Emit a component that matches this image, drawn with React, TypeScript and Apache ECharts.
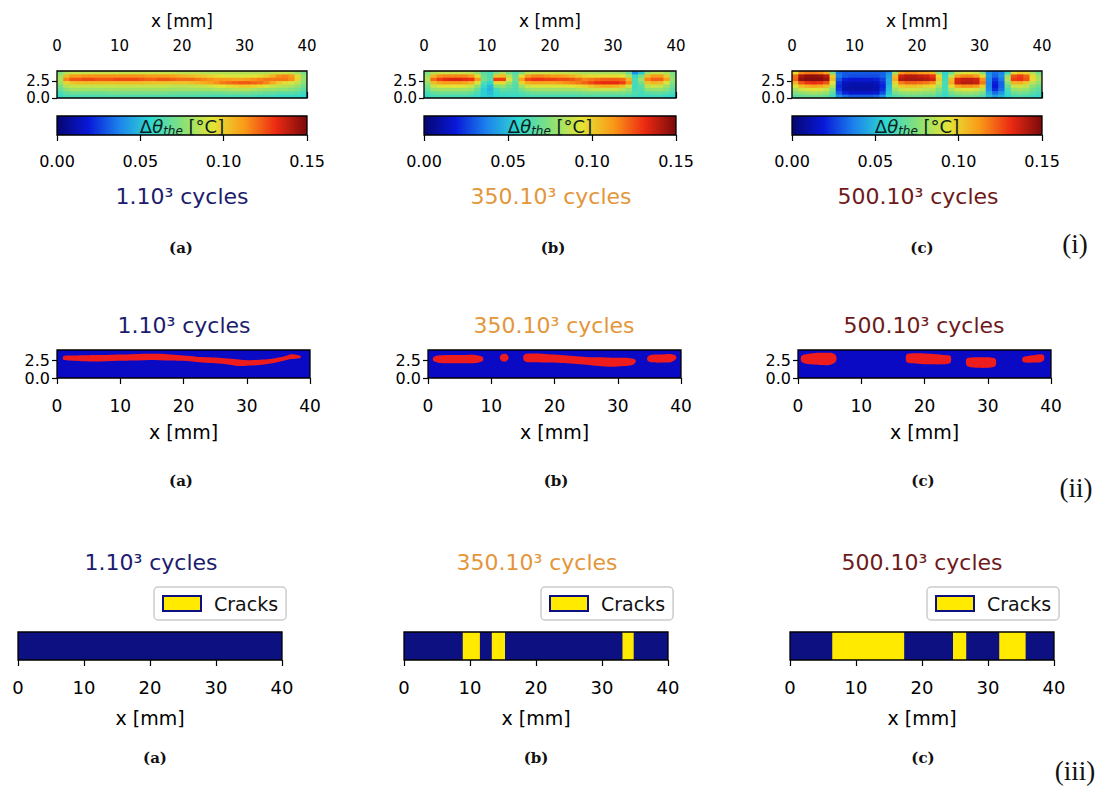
import React, { useEffect, useRef } from 'react';
import * as echarts from 'echarts';

// ================= DATA =================
const xRange = [0, 40];          // mm
const yRange = [0, 4];           // mm
const xTickStep = 10;
const yTickValues = [0, 2.5];
const cbRange = [0, 0.15];       // °C
const cbTickStep = 0.05;

const cycleTitles = ['1.10³ cycles', '350.10³ cycles', '500.10³ cycles'];
const panelLetters = ['(a)', '(b)', '(c)'];
const rowNames = ['(i)', '(ii)', '(iii)'];
const legendName = 'Cracks';

// Δθ_the maps, rows from top (y=3.75) to bottom (y=0.25), 40 columns of 1 mm, values in 1e-3 °C
const heat1k = [
  [74,84,88,88,88,88,88,88,88,88, 88,88,88,88,88,88,88,88,88,86, 86,86,86,84,84,84,84,84,84,84, 84,84,84,84,86,88,88,86,80,72],
  [80,104,112,112,114,114,114,114,114,114, 114,114,114,114,112,112,112,112,110,108, 106,104,102,100,98,96,94,92,92,92, 92,94,96,100,106,114,116,112,96,78],
  [82,116,124,124,126,126,124,124,124,126, 126,126,126,124,122,122,124,124,122,120, 120,120,118,116,114,112,112,112,110,110, 112,114,116,118,118,118,118,114,98,78],
  [80,98,102,104,104,104,104,104,104,104, 104,104,104,104,102,102,102,102,102,102, 102,104,106,108,110,114,118,120,122,124, 124,122,120,116,108,100,96,92,86,76],
  [72,84,88,88,88,88,88,88,88,88, 88,88,88,88,88,88,88,88,86,86, 86,86,88,88,90,92,94,96,98,100, 100,98,96,92,88,86,84,82,78,70],
  [68,76,80,80,80,80,80,80,80,80, 80,80,80,80,80,80,80,80,80,80, 80,80,80,80,80,82,82,82,84,84, 84,82,80,78,78,76,76,74,72,66],
  [62,68,70,70,70,70,70,70,72,72, 72,72,72,72,72,72,72,72,70,70, 70,70,70,70,70,70,70,72,72,72, 72,70,70,68,68,66,66,66,64,60],
  [58,62,62,62,62,64,64,64,64,64, 64,64,64,64,64,64,64,64,64,64, 64,64,64,62,62,62,62,62,62,62, 62,62,60,60,60,58,58,58,58,56],
];
const heat350k = [
  [74,84,88,88,88,88,88,86,78,66, 62,74,84,72,64,74,86,88,88,88, 88,88,86,86,84,82,82,82,82,82, 82,80,70,40,52,78,86,86,82,72],
  [80,106,114,116,116,116,116,112,96,70, 64,102,104,86,68,96,112,116,116,114, 112,112,110,106,102,98,96,96,96,96, 96,94,82,58,72,104,112,112,100,76],
  [84,120,128,132,134,134,132,130,112,72, 64,128,128,92,70,110,126,130,130,128, 128,126,126,124,120,116,118,120,122,122, 122,120,106,62,80,116,122,122,110,78],
  [78,104,110,112,112,112,110,106,92,64, 56,96,96,80,66,98,108,110,110,110, 110,112,114,116,118,122,126,130,132,132, 132,128,114,62,72,102,106,104,92,74],
  [72,88,92,94,94,94,92,88,76,58, 50,74,78,70,64,80,90,92,92,92, 92,92,92,94,96,98,102,106,108,108, 106,102,90,60,66,86,90,88,80,70],
  [68,78,80,80,80,80,80,78,68,54, 48,62,68,66,64,72,78,80,80,80, 80,80,80,80,82,84,86,88,88,88, 88,84,78,62,64,76,78,78,74,66],
  [62,68,70,70,70,70,70,68,62,54, 50,58,62,62,62,64,68,70,70,70, 70,70,70,70,70,72,72,72,72,72, 72,72,70,64,62,66,68,68,66,62],
  [58,62,62,62,62,62,62,60,58,54, 52,56,58,58,58,60,62,62,62,62, 62,62,62,62,62,64,64,64,64,64, 64,64,62,60,58,60,60,60,58,56],
];
const heat500k = [
  [96,115,118,118,116,110,72,34,30,30, 30,30,30,30,32,40,80,112,115,115, 112,110,106,76,55,70,88,92,92,90, 76,40,34,38,60,96,100,98,84,70],
  [120,142,146,146,145,140,100,36,30,28, 28,28,28,28,32,44,104,136,140,140, 138,136,130,96,58,86,112,116,116,112, 96,42,32,40,80,124,128,122,96,80],
  [122,146,148,148,148,144,104,30,20,18, 18,18,18,20,26,46,108,140,142,142, 142,140,136,100,60,104,134,138,138,136, 114,40,24,36,84,128,130,124,96,82],
  [106,124,130,132,130,124,94,24,14,12, 12,12,12,14,22,46,98,118,122,122, 120,118,114,90,62,108,136,140,140,138, 118,38,20,32,76,106,108,100,86,78],
  [92,104,108,110,108,104,84,22,12,10, 10,10,10,12,20,48,88,100,102,102, 100,98,96,82,62,96,110,114,114,112, 100,38,18,32,68,88,90,86,76,70],
  [82,90,92,94,92,88,74,24,12,10, 10,10,10,12,22,50,80,88,90,90, 88,86,84,74,62,82,90,92,92,90, 84,40,22,34,62,78,80,78,70,66],
  [74,78,80,82,80,78,66,30,20,16, 16,16,16,18,28,52,72,76,78,78, 78,76,76,68,60,72,78,80,80,78, 72,46,34,42,58,70,72,70,66,62],
  [66,68,70,70,70,68,60,40,34,30, 30,30,30,32,40,56,64,68,70,70, 70,68,68,62,58,64,68,70,70,68, 64,50,44,48,56,62,64,62,60,58],
];

// thresholded zones: each segment = list of [x, yLow, yHigh] (mm)
const zones1k = [
  [[1.0,2.6,3.1],[2,2.5,3.2],[4,2.4,3.25],[6,2.35,3.3],[8,2.4,3.3],[10,2.45,3.35],[12,2.5,3.4],[14,2.55,3.45],[16,2.55,3.45],[18,2.5,3.35],[20,2.45,3.2],[22,2.3,3.05],[24,2.15,2.95],[26,2.05,2.85],[28,1.8,2.7],[29,1.7,2.6],[30,1.75,2.55],[32,1.85,2.6],[34,2.1,2.75],[36,2.5,3.1],[37,2.7,3.4],[38,2.8,3.3],[38.5,2.85,3.15]],
];
const zones350k = [
  [[0.8,2.5,2.9],[1.2,2.3,3.15],[2,2.15,3.25],[4,2.1,3.3],[6,2.1,3.3],[7.5,2.15,3.3],[8.3,2.3,3.15],[8.7,2.5,2.95]],
  [[11.4,2.7,3.1],[11.7,2.4,3.4],[12.3,2.35,3.45],[12.7,2.7,3.1]],
  [[15.1,2.6,3.2],[15.5,2.3,3.45],[17,2.25,3.5],[19,2.2,3.4],[21,2.15,3.3],[23,2.05,3.15],[25,1.9,3.0],[27,1.7,2.95],[29,1.6,2.9],[31,1.7,2.9],[32.3,1.85,2.8],[32.8,2.2,2.6]],
  [[34.7,2.5,3.0],[35.2,2.25,3.3],[37,2.2,3.35],[38.5,2.3,3.4],[39.2,2.7,3.15]],
];
const zones500k = [
  [[0.5,2.4,3.1],[1,2.1,3.35],[2,1.95,3.5],[3.5,1.85,3.6],[5,1.85,3.6],[5.7,2.1,3.45],[6.05,2.5,3.1]],
  [[17.1,2.4,3.3],[17.5,2.15,3.5],[19,2.05,3.55],[21,1.95,3.45],[23,1.95,3.3],[24,2.1,3.2],[24.2,2.4,2.9]],
  [[26.6,1.9,2.7],[27,1.6,2.9],[28.5,1.45,2.95],[30,1.45,2.95],[31,1.6,2.85],[31.3,1.9,2.6]],
  [[35.5,2.4,2.9],[36,2.2,3.1],[37.5,2.2,3.3],[38.5,2.3,3.4],[38.9,2.6,3.2]],
];

// crack intervals [start, end] in mm
const cracks1k: number[][] = [];
const cracks350k = [[8.9, 11.5], [13.3, 15.3], [33.1, 34.8]];
const cracks500k = [[6.4, 17.3], [24.7, 26.7], [31.7, 35.7]];

// ================= STYLE / LAYOUT =================
const FONT = "'DejaVu Sans', 'Noto Sans', sans-serif";
const SERIF = "'Liberation Serif', 'DejaVu Serif', serif";
const jet = ['#060670', '#0818d8', '#1c84ec', '#2ed8d0', '#86e07a', '#e4e436', '#fa9a18', '#ec2a12', '#7a0a0a'];
const titleColors = ['#1c1c6e', '#e3963a', '#6e1a1a'];
const blueBg = '#0a0ac4';
const redZone = '#ee1c1c';
const navy = '#0c1080';
const yellow = '#ffea00';

const heatBoxes = [
  { left: 57, top: 71, width: 250, height: 27 },
  { left: 424, top: 71, width: 252, height: 27 },
  { left: 792, top: 71, width: 250, height: 27 },
];
const cbBoxes = heatBoxes.map((b) => ({ ...b, top: 116, height: 19 }));
const binBoxes = [
  { left: 57, top: 350, width: 253, height: 28 },
  { left: 428, top: 350, width: 253, height: 28 },
  { left: 798, top: 350, width: 253, height: 28 },
];
const crackBoxes = [
  { left: 18, top: 632, width: 264, height: 28 },
  { left: 404, top: 632, width: 264, height: 28 },
  { left: 790, top: 632, width: 264, height: 28 },
];
const legendBoxes = [
  { left: 154, top: 587 },
  { left: 541, top: 587 },
  { left: 927, top: 587 },
];

function toCells(rows: number[][]) {
  const out: number[][] = [];
  const nR = rows.length;
  const nC = rows[0].length;
  const cw = (xRange[1] - xRange[0]) / nC;
  const ch = (yRange[1] - yRange[0]) / nR;
  rows.forEach((row, r) =>
    row.forEach((v, c) => out.push([xRange[0] + (c + 0.5) * cw, yRange[1] - (r + 0.5) * ch, v / 1000, cw, ch]))
  );
  return out;
}

function buildOption() {
  const grid: any[] = [];
  const xAxis: any[] = [];
  const yAxis: any[] = [];
  const series: any[] = [];
  const frames: any[] = [];
  const graphic: any[] = [];
  const tickLine = { color: '#000', width: 1.2 };

  const addFrame = (idx: number, ext: number[]) => {
    frames.push({
      type: 'custom', xAxisIndex: idx, yAxisIndex: idx, silent: true, z: 10,
      data: [ext],
      encode: { x: [0, 2], y: [1, 3] },
      renderItem: (_p: any, api: any) => {
        const a = api.coord([api.value(0), api.value(1)]);
        const b = api.coord([api.value(2), api.value(3)]);
        return {
          type: 'rect',
          shape: { x: a[0], y: b[1], width: b[0] - a[0], height: a[1] - b[1] },
          style: { fill: 'none', stroke: '#000', lineWidth: 1.3 },
        };
      },
    });
  };

  // ---- row (i): heat maps ----
  const heats = [heat1k, heat350k, heat500k];
  heatBoxes.forEach((b, i) => {
    const gi = i;
    grid.push({ ...b });
    xAxis.push({
      gridIndex: gi, type: 'value', min: xRange[0], max: xRange[1], interval: xTickStep, position: 'top',
      name: 'x [mm]', nameLocation: 'middle', nameGap: 42,
      nameTextStyle: { fontSize: 17, color: '#000', fontFamily: FONT },
      axisLine: { show: false }, splitLine: { show: false },
      axisTick: { show: true, length: 6, lineStyle: tickLine },
      axisLabel: { fontSize: 15, color: '#000', fontFamily: FONT, margin: 18 },
    });
    yAxis.push({
      gridIndex: gi, type: 'value', min: yRange[0], max: yRange[1],
      axisLine: { show: false }, splitLine: { show: false },
      axisTick: { show: true, length: 5, customValues: yTickValues, lineStyle: tickLine },
      axisLabel: { customValues: yTickValues, formatter: (v: number) => v.toFixed(1), fontSize: 15, lineHeight: 14, color: '#000', fontFamily: FONT, margin: 7 },
    });
    series.push({
      type: 'custom', xAxisIndex: gi, yAxisIndex: gi, clip: true, silent: true,
      data: toCells(heats[i]),
      encode: { x: 0, y: 1 },
      renderItem: (_p: any, api: any) => {
        const w = api.value(3), h = api.value(4);
        const p = api.coord([api.value(0) - w / 2, api.value(1) + h / 2]);
        const s = api.size([w, h]);
        return { type: 'rect', shape: { x: p[0], y: p[1], width: s[0] + 0.7, height: s[1] + 0.7 }, style: { fill: api.visual('color') } };
      },
    });
    addFrame(gi, [xRange[0], yRange[0], xRange[1], yRange[1]]);
  });

  // ---- row (i): colorbars ----
  cbBoxes.forEach((b, i) => {
    const gi = 3 + i;
    grid.push({ ...b });
    xAxis.push({
      gridIndex: gi, type: 'value', min: cbRange[0], max: cbRange[1], interval: cbTickStep, position: 'bottom',
      axisLine: { show: false }, splitLine: { show: false },
      axisTick: { show: true, length: 6, lineStyle: tickLine },
      axisLabel: { formatter: (v: number) => v.toFixed(2), fontSize: 16, color: '#000', fontFamily: FONT, margin: 18 },
    });
    yAxis.push({ gridIndex: gi, type: 'value', min: 0, max: 1, show: false });
    series.push({
      type: 'custom', xAxisIndex: gi, yAxisIndex: gi, silent: true,
      data: [[cbRange[0], 0, cbRange[1], 1]],
      encode: { x: [0, 2], y: [1, 3] },
      renderItem: (_p: any, api: any) => {
        const a = api.coord([api.value(0), api.value(1)]);
        const c = api.coord([api.value(2), api.value(3)]);
        return {
          type: 'rect',
          shape: { x: a[0], y: c[1], width: c[0] - a[0], height: a[1] - c[1] },
          style: {
            fill: new echarts.graphic.LinearGradient(0, 0, 1, 0, jet.map((col, k) => ({ offset: k / (jet.length - 1), color: col }))),
          },
        };
      },
    });
    addFrame(gi, [cbRange[0], 0, cbRange[1], 1]);
    graphic.push({
      type: 'text', x: b.left + b.width / 2, y: b.top + 10, z: 20,
      style: {
        text: '{n|Δ}{i|θ}{s|the}{n| [°C]}',
        align: 'center', verticalAlign: 'middle',
        rich: {
          n: { fontSize: 18, fontFamily: FONT, fill: '#0b1f1f', lineHeight: 22, verticalAlign: 'middle' },
          i: { fontSize: 18, fontFamily: FONT, fontStyle: 'italic', fill: '#0b1f1f', lineHeight: 22, verticalAlign: 'middle' },
          s: { fontSize: 12, fontFamily: FONT, fontStyle: 'italic', fill: '#0b1f1f', lineHeight: 12, verticalAlign: 'bottom' },
        },
      },
    });
  });

  // ---- row (ii): thresholded zones ----
  const zones = [zones1k, zones350k, zones500k];
  binBoxes.forEach((b, i) => {
    const gi = 6 + i;
    const segs = zones[i];
    grid.push({ ...b, show: true, backgroundColor: blueBg, borderWidth: 0 });
    xAxis.push({
      gridIndex: gi, type: 'value', min: xRange[0], max: xRange[1], interval: xTickStep, position: 'bottom',
      name: 'x [mm]', nameLocation: 'middle', nameGap: 44,
      nameTextStyle: { fontSize: 19, color: '#000', fontFamily: FONT },
      axisLine: { show: false }, splitLine: { show: false },
      axisTick: { show: true, length: 6, lineStyle: tickLine },
      axisLabel: { fontSize: 17, color: '#000', fontFamily: FONT, margin: 19 },
    });
    yAxis.push({
      gridIndex: gi, type: 'value', min: yRange[0], max: yRange[1],
      axisLine: { show: false }, splitLine: { show: false },
      axisTick: { show: true, length: 5, customValues: yTickValues, lineStyle: tickLine },
      axisLabel: { customValues: yTickValues, formatter: (v: number) => v.toFixed(1), fontSize: 16, lineHeight: 14, color: '#000', fontFamily: FONT, margin: 7 },
    });
    series.push({
      type: 'custom', xAxisIndex: gi, yAxisIndex: gi, clip: true, silent: true,
      data: segs.map((s, k) => [s[0][0], s[0][1], k]),
      encode: { x: 0, y: 1 },
      renderItem: (_p: any, api: any) => {
        const seg = segs[api.value(2)];
        const top = seg.map((pt) => api.coord([pt[0], pt[2]]));
        const bot = seg.slice().reverse().map((pt) => api.coord([pt[0], pt[1]]));
        return { type: 'polygon', shape: { points: top.concat(bot), smooth: 0.3 }, style: { fill: redZone } };
      },
    });
    addFrame(gi, [xRange[0], yRange[0], xRange[1], yRange[1]]);
  });

  // ---- row (iii): cracks ----
  const cracks = [cracks1k, cracks350k, cracks500k];
  crackBoxes.forEach((b, i) => {
    const gi = 9 + i;
    grid.push({ ...b, show: true, backgroundColor: navy, borderWidth: 0 });
    xAxis.push({
      gridIndex: gi, type: 'value', min: xRange[0], max: xRange[1], interval: xTickStep, position: 'bottom',
      name: 'x [mm]', nameLocation: 'middle', nameGap: 48,
      nameTextStyle: { fontSize: 19, color: '#000', fontFamily: FONT },
      axisLine: { show: false }, splitLine: { show: false },
      axisTick: { show: true, length: 6, lineStyle: tickLine },
      axisLabel: { fontSize: 18, color: '#000', fontFamily: FONT, margin: 18 },
    });
    yAxis.push({ gridIndex: gi, type: 'value', min: 0, max: 1, show: false });
    series.push({
      type: 'custom', name: legendName, xAxisIndex: gi, yAxisIndex: gi, clip: true,
      itemStyle: { color: yellow },
      data: cracks[i],
      encode: { x: [0, 1] },
      renderItem: (_p: any, api: any) => {
        const a = api.coord([api.value(0), 0]);
        const c = api.coord([api.value(1), 1]);
        return { type: 'rect', shape: { x: a[0], y: c[1], width: c[0] - a[0], height: a[1] - c[1] }, style: { fill: yellow } };
      },
    });
    addFrame(gi, [xRange[0], 0, xRange[1], 1]);
  });

  // ---- texts ----
  const titleRows = [
    { y: 196, xs: [182, 551, 918] },
    { y: 325, xs: [184, 554, 924] },
    { y: 562, xs: [151, 537, 922] },
  ];
  titleRows.forEach((r) =>
    r.xs.forEach((x, i) =>
      graphic.push({
        type: 'text', x, y: r.y,
        style: { text: cycleTitles[i], fill: titleColors[i], fontSize: 22, fontFamily: FONT, align: 'center', verticalAlign: 'middle' },
      })
    )
  );
  const letterRows = [
    { y: 248, xs: [181, 553, 922] },
    { y: 481, xs: [181, 556, 923] },
    { y: 758, xs: [155, 536, 923] },
  ];
  letterRows.forEach((r) =>
    r.xs.forEach((x, i) =>
      graphic.push({
        type: 'text', x, y: r.y,
        style: { text: panelLetters[i], fill: '#111', fontSize: 15, fontWeight: 'bold', fontFamily: "'DejaVu Serif', serif", align: 'center', verticalAlign: 'middle' },
      })
    )
  );
  const rowLabelPos = [
    { x: 1075, y: 244 },
    { x: 1076, y: 488 },
    { x: 1075, y: 771 },
  ];
  rowLabelPos.forEach((p, i) =>
    graphic.push({
      type: 'text', x: p.x, y: p.y,
      style: { text: rowNames[i], fill: '#111', fontSize: 27, fontFamily: SERIF, align: 'center', verticalAlign: 'middle' },
    })
  );

  const legend = legendBoxes.map((p) => ({
    data: [legendName], left: p.left, top: p.top, orient: 'horizontal',
    icon: 'rect', itemWidth: 38, itemHeight: 15, selectedMode: false,
    itemStyle: { color: yellow, borderColor: navy, borderWidth: 2 },
    textStyle: { fontSize: 19, fontFamily: FONT, color: '#111', padding: [0, 0, 0, 8] },
    borderColor: '#cccccc', borderWidth: 1.5, borderRadius: 4, padding: [7, 8, 7, 8], backgroundColor: '#fff',
  }));

  return {
    animation: false,
    backgroundColor: '#fff',
    grid, xAxis, yAxis, legend, graphic,
    visualMap: {
      type: 'continuous', show: false, min: cbRange[0], max: cbRange[1], dimension: 2,
      seriesIndex: [0, 1, 2], inRange: { color: jet },
    },
    series: series.concat(frames),
  };
}

export default function App() {
  const ref = useRef<HTMLDivElement>(null);
  useEffect(() => {
    document.body.style.margin = '0';
    const chart = echarts.init(ref.current as HTMLDivElement, null, { renderer: 'svg' });
    chart.setOption(buildOption() as any);
    return () => chart.dispose();
  }, []);
  return <div ref={ref} style={{ position: 'absolute', left: 0, top: 0, width: 1117, height: 786, background: '#fff' }} />;
}
